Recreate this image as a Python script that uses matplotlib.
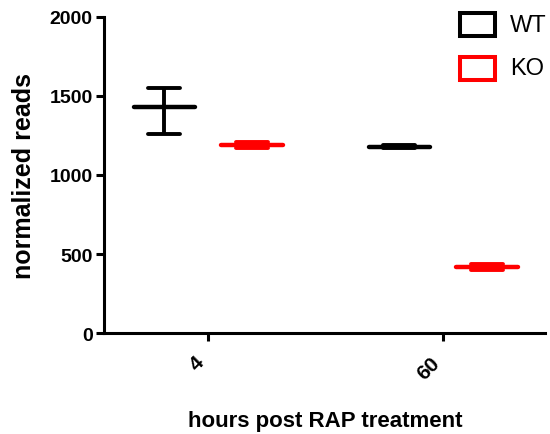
import matplotlib.pyplot as plt
from matplotlib.patches import Rectangle
import numpy as np

plt.rcParams['font.family'] = ['Liberation Sans', 'DejaVu Sans']
plt.rcParams['font.weight'] = 'bold'

categories = ['4', '60']
groups = ['WT', 'KO']
colors = ['black', 'red']
means = {'WT': [1430, 1179], 'KO': [1190, 418]}
lower = {'WT': [1262, 1169], 'KO': [1172, 396]}
upper = {'WT': [1553, 1189], 'KO': [1208, 440]}

fig = plt.figure(figsize=(5.5, 4.35), dpi=100)
ax = fig.add_axes([0.189, 0.232, 0.802, 0.727])

x = np.arange(len(categories))
offsets = [-0.187, 0.187]
for g, c, off in zip(groups, colors, offsets):
    xs = x + off
    m = np.array(means[g])
    lo = np.array(lower[g])
    hi = np.array(upper[g])
    ax.hlines(m, xs - 0.13, xs + 0.13, colors=c, lw=3.2, capstyle='round')
    ax.errorbar(xs, m, yerr=[m - lo, hi - m], fmt='none', ecolor=c,
                elinewidth=2.8, capsize=0)
    ax.hlines(lo, xs - 0.068, xs + 0.068, colors=c, lw=2.8, capstyle='round')
    ax.hlines(hi, xs - 0.068, xs + 0.068, colors=c, lw=2.8, capstyle='round')

ax.set_xlim(-0.443, 1.434)
ax.set_ylim(0, 2000)
ax.set_yticks([0, 500, 1000, 1500, 2000])
ax.set_xticks(x)
ax.set_xticklabels(categories, rotation=45, ha='right', fontsize=15, fontweight='bold')
for lab in ax.get_yticklabels():
    lab.set_fontsize(14)
    lab.set_fontweight('bold')

for s in ['top', 'right']:
    ax.spines[s].set_visible(False)
for s in ['left', 'bottom']:
    ax.spines[s].set_linewidth(2.2)
ax.tick_params(width=2.2, length=6, direction='out', pad=2)
ax.tick_params(axis='x', pad=8)

ax.set_ylabel('normalized reads', fontsize=18, fontweight='bold')
ax.yaxis.set_label_coords(-0.155, 0.5)
ax.set_xlabel('hours post RAP treatment', fontsize=16, fontweight='bold')
ax.xaxis.set_label_coords(0.501, -0.244)

# legend boxes
legend_y = [0.941, 0.841]
for g, c, yy in zip(groups, colors, legend_y):
    fig.patches.append(Rectangle((0.836, yy - 0.0265), 0.0636, 0.053, fill=False,
                                 edgecolor=c, lw=2.9, transform=fig.transFigure))
    fig.text(0.927, yy, g, fontsize=17, fontweight='normal', va='center', ha='left')

fig.savefig('out.png', dpi=100)
